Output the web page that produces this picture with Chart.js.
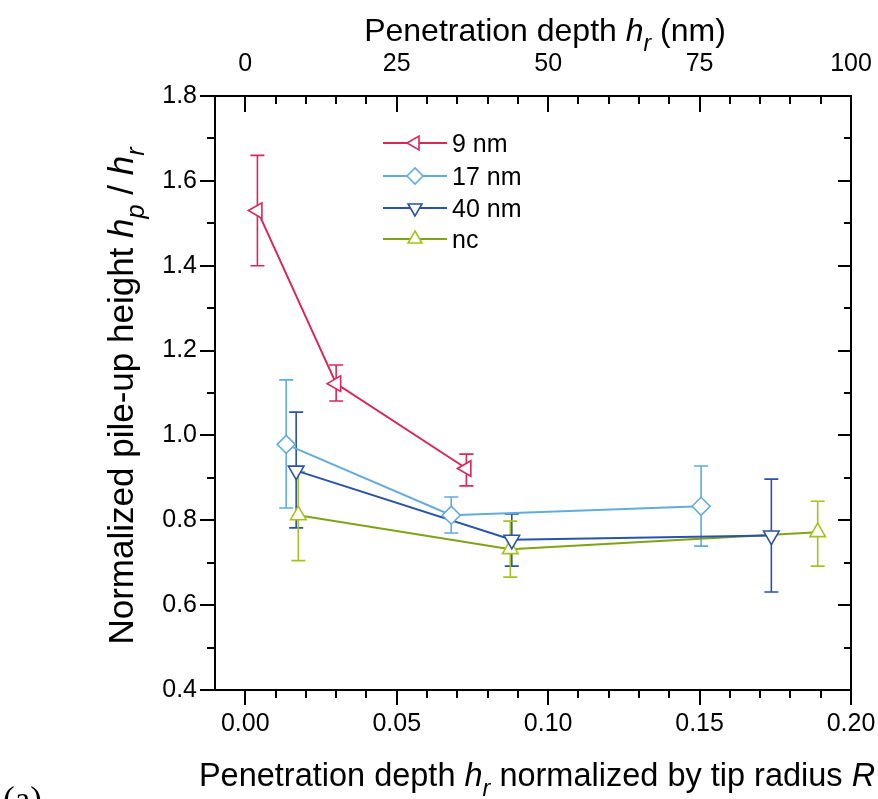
<!DOCTYPE html>
<html>
<head>
<meta charset="utf-8">
<script src="https://cdn.jsdelivr.net/npm/chart.js@4/dist/chart.umd.min.js"></script>
<style>
  html, body { margin: 0; padding: 0; background: #fff; }
  #wrap { width: 878px; height: 799px; position: relative; }
</style>
</head>
<body>
<div id="wrap"><canvas id="c" width="878" height="799"></canvas></div>
<script>
// Normalized depth h_r/R (x), normalized pile-up height h_p/h_r (y) and error-bar ends
const seriesNames = ['9 nm', '17 nm', '40 nm', 'nc'];

const x9  = [0.004, 0.030, 0.073];
const y9  = [1.530, 1.122, 0.922];
const hi9 = [1.660, 1.166, 0.956];
const lo9 = [1.400, 1.081, 0.881];

const x17  = [0.0135, 0.068, 0.1505];
const y17  = [0.979, 0.812, 0.833];
const hi17 = [1.131, 0.855, 0.928];
const lo17 = [0.829, 0.770, 0.739];

const x40  = [0.0168, 0.088, 0.1737];
const y40  = [0.917, 0.754, 0.764];
const hi40 = [1.055, 0.815, 0.897];
const lo40 = [0.782, 0.692, 0.631];

const xnc  = [0.0175, 0.0875, 0.189];
const ync  = [0.812, 0.732, 0.772];
const hinc = [0.914, 0.798, 0.845];
const lonc = [0.705, 0.666, 0.692];

// Axis tick labels
const xTickLabels    = ['0.00', '0.05', '0.10', '0.15', '0.20'];
const xTopTickLabels = ['0', '25', '50', '75', '100'];
const yTickLabels    = ['0.4', '0.6', '0.8', '1.0', '1.2', '1.4', '1.6', '1.8'];

// Minor tick positions
const xMinorTicks    = [0.01, 0.02, 0.03, 0.04, 0.06, 0.07, 0.08, 0.09, 0.11, 0.12, 0.13, 0.14, 0.16, 0.17, 0.18, 0.19];
const xTopMinorTicks = [5, 10, 15, 20, 30, 35, 40, 45, 55, 60, 65, 70, 80, 85, 90, 95];
const yMinorTicks    = [0.5, 0.7, 0.9, 1.1, 1.3, 1.5, 1.7];

const FONT = '"Liberation Sans", Arial, Helvetica, sans-serif';
const C9 = '#d8285a', C17 = '#62acdc', C40 = '#2a52a8', CNC = '#7ea416', CNC_MARK = '#a4c41c';

function pts(xs, ys) { return xs.map((x, i) => ({ x: x, y: ys[i] })); }

function series(label, xs, ys, hi, lo, color, markColor, style, rotation) {
  return {
    label: label,
    data: pts(xs, ys),
    errHi: hi, errLo: lo, errColor: markColor,
    showLine: true,
    borderColor: color,
    borderWidth: 2,
    pointStyle: style,
    rotation: rotation,
    pointRadius: 9,
    pointBorderWidth: 1.6,
    pointBorderColor: markColor,
    pointBackgroundColor: '#ffffff',
    xAxisID: 'x', yAxisID: 'y'
  };
}

const datasets = [
  series(seriesNames[0], x9, y9, hi9, lo9, C9, C9, 'triangle', -90),
  series(seriesNames[1], x17, y17, hi17, lo17, C17, C17, 'rectRot', 0),
  series(seriesNames[2], x40, y40, hi40, lo40, C40, C40, 'triangle', 180),
  series(seriesNames[3], xnc, ync, hinc, lonc, CNC, CNC_MARK, 'triangle', 0)
];

// Vertical error bars with caps, under the markers
const errorBars = {
  id: 'errorBars',
  beforeDatasetsDraw(chart) {
    const ctx = chart.ctx, xs = chart.scales.x, ys = chart.scales.y;
    ctx.save();
    chart.data.datasets.forEach(ds => {
      ctx.strokeStyle = ds.errColor;
      ctx.lineWidth = 1.6;
      ds.data.forEach((p, i) => {
        const px = xs.getPixelForValue(p.x);
        const top = ys.getPixelForValue(ds.errHi[i]);
        const bot = ys.getPixelForValue(ds.errLo[i]);
        ctx.beginPath();
        ctx.moveTo(px, top); ctx.lineTo(px, bot);
        ctx.moveTo(px - 7, top); ctx.lineTo(px + 7, top);
        ctx.moveTo(px - 7, bot); ctx.lineTo(px + 7, bot);
        ctx.stroke();
      });
    });
    ctx.restore();
  }
};

// Major and minor tick marks on all four sides of the frame
const frameTicks = {
  id: 'frameTicks',
  afterDraw(chart) {
    const ctx = chart.ctx, a = chart.chartArea;
    const sx = chart.scales.x, sx2 = chart.scales.x2, sy = chart.scales.y;
    ctx.save();
    ctx.strokeStyle = '#000';
    ctx.lineWidth = 2;
    ctx.beginPath();
    const vert = (scale, vals, y0, y1) => vals.forEach(v => {
      const p = Math.round(scale.getPixelForValue(v));
      ctx.moveTo(p, y0); ctx.lineTo(p, y1);
    });
    const horiz = (scale, vals, x0, x1) => vals.forEach(v => {
      const p = Math.round(scale.getPixelForValue(v));
      ctx.moveTo(x0, p); ctx.lineTo(x1, p);
    });
    // bottom: outward
    vert(sx, xTickLabels.map(parseFloat), a.bottom, a.bottom + 15);
    vert(sx, xMinorTicks, a.bottom, a.bottom + 8);
    // top: inward
    vert(sx2, xTopTickLabels.map(parseFloat), a.top, a.top + 16);
    vert(sx2, xTopMinorTicks, a.top, a.top + 8);
    // left: outward
    horiz(sy, yTickLabels.map(parseFloat), a.left - 15, a.left);
    horiz(sy, yMinorTicks, a.left - 8, a.left);
    // right: inward
    horiz(sy, yTickLabels.map(parseFloat), a.right - 13, a.right);
    horiz(sy, yMinorTicks, a.right - 7, a.right);
    ctx.stroke();
    ctx.restore();
  }
};

// Text with italic symbols and subscripts
function setFont(ctx, part, size) {
  const s = part.sub ? size * 0.72 : size;
  ctx.font = (part.italic ? 'italic ' : '') + s + 'px ' + FONT;
}
function richWidth(ctx, parts, size) {
  let w = 0;
  parts.forEach(p => { setFont(ctx, p, size); w += ctx.measureText(p.t).width; });
  return w;
}
function drawRich(ctx, parts, size, cx, baseline) {
  let x = cx - richWidth(ctx, parts, size) / 2;
  parts.forEach(p => {
    setFont(ctx, p, size);
    ctx.fillText(p.t, x, baseline + (p.sub ? size * 0.3 : 0));
    x += ctx.measureText(p.t).width;
  });
}

const topTitle = [
  { t: 'Penetration depth ' }, { t: 'h', italic: true }, { t: 'r', italic: true, sub: true }, { t: ' (nm)' }
];
const bottomTitle = [
  { t: 'Penetration depth ' }, { t: 'h', italic: true }, { t: 'r', italic: true, sub: true },
  { t: ' normalized by tip radius ' }, { t: 'R', italic: true }
];
const leftTitle = [
  { t: 'Normalized pile-up height ' }, { t: 'h', italic: true }, { t: 'p', italic: true, sub: true },
  { t: ' / ' }, { t: 'h', italic: true }, { t: 'r', italic: true, sub: true }
];

const axisTitles = {
  id: 'axisTitles',
  afterDraw(chart) {
    const ctx = chart.ctx;
    ctx.save();
    ctx.fillStyle = '#000';
    ctx.textAlign = 'left';
    ctx.textBaseline = 'alphabetic';
    drawRich(ctx, topTitle, 32, 545, 41);
    drawRich(ctx, bottomTitle, 32.5, 537, 786);
    ctx.save();
    ctx.translate(133, 396);
    ctx.rotate(-Math.PI / 2);
    drawRich(ctx, leftTitle, 35, 0, 0);
    ctx.restore();
    // panel label
    ctx.font = '35px "Liberation Serif", "Times New Roman", serif';
    ctx.fillText('(a)', 3, 811);
    ctx.restore();
  }
};

// Legend: line – marker – line, then the label
const legendBox = {
  id: 'legendBox',
  afterDraw(chart) {
    const ctx = chart.ctx;
    const x0 = 383, x1 = 447, xm = 415, xt = 452;
    const baselines = [152, 185, 217, 248];
    ctx.save();
    chart.data.datasets.forEach((ds, i) => {
      const yl = baselines[i] - 9;
      ctx.strokeStyle = ds.borderColor;
      ctx.lineWidth = 2;
      ctx.beginPath();
      ctx.moveTo(x0, yl); ctx.lineTo(x1, yl);
      ctx.stroke();
      ctx.fillStyle = '#fff';
      ctx.strokeStyle = ds.pointBorderColor;
      ctx.lineWidth = 1.6;
      Chart.helpers.drawPoint(ctx, {
        pointStyle: ds.pointStyle, rotation: ds.rotation, radius: 8, borderWidth: 1.6
      }, xm, yl);
      ctx.fillStyle = '#000';
      ctx.font = '25px ' + FONT;
      ctx.textAlign = 'left';
      ctx.textBaseline = 'alphabetic';
      ctx.fillText(ds.label, xt, baselines[i]);
    });
    ctx.restore();
  }
};

const tickFont = { family: FONT, size: 25 };
const noPadX = s => { s.paddingLeft = 0; s.paddingRight = 0; };
const noPadY = s => { s.paddingTop = 0; s.paddingBottom = 0; };

new Chart(document.getElementById('c').getContext('2d'), {
  type: 'scatter',
  data: { datasets: datasets },
  options: {
    responsive: false,
    animation: false,
    devicePixelRatio: 1,
    layout: { padding: 0 },
    plugins: { legend: { display: false }, tooltip: { enabled: false }, title: { display: false } },
    elements: { line: { tension: 0 } },
    scales: {
      x: {
        type: 'linear', position: 'bottom', min: -0.01, max: 0.20,
        afterBuildTicks: s => { s.ticks = xTickLabels.map(t => ({ value: parseFloat(t) })); },
        afterFit: s => { s.height = 109; noPadX(s); },
        grid: { display: false, drawTicks: false },
        border: { display: true, color: '#000', width: 2 },
        ticks: { callback: (v, i) => xTickLabels[i], padding: 19, font: tickFont, color: '#000', autoSkip: false, maxRotation: 0 }
      },
      x2: {
        type: 'linear', position: 'top', min: -5, max: 100,
        afterBuildTicks: s => { s.ticks = xTopTickLabels.map(t => ({ value: parseFloat(t) })); },
        afterFit: s => { s.height = 96; noPadX(s); },
        grid: { display: false, drawTicks: false },
        border: { display: true, color: '#000', width: 2 },
        ticks: { callback: (v, i) => xTopTickLabels[i], padding: 17, font: tickFont, color: '#000', autoSkip: false, maxRotation: 0 }
      },
      y: {
        type: 'linear', position: 'left', min: 0.4, max: 1.8,
        afterBuildTicks: s => { s.ticks = yTickLabels.map(t => ({ value: parseFloat(t) })); },
        afterFit: s => { s.width = 215; noPadY(s); },
        grid: { display: false, drawTicks: false },
        border: { display: true, color: '#000', width: 2 },
        ticks: { callback: (v, i) => yTickLabels[i], padding: 18, font: tickFont, color: '#000', autoSkip: false }
      },
      y2: {
        type: 'linear', position: 'right', min: 0.4, max: 1.8,
        afterFit: s => { s.width = 27; noPadY(s); },
        grid: { display: false, drawTicks: false },
        border: { display: true, color: '#000', width: 2 },
        ticks: { display: false }
      }
    }
  },
  plugins: [errorBars, frameTicks, axisTitles, legendBox]
});
</script>
</body>
</html>
